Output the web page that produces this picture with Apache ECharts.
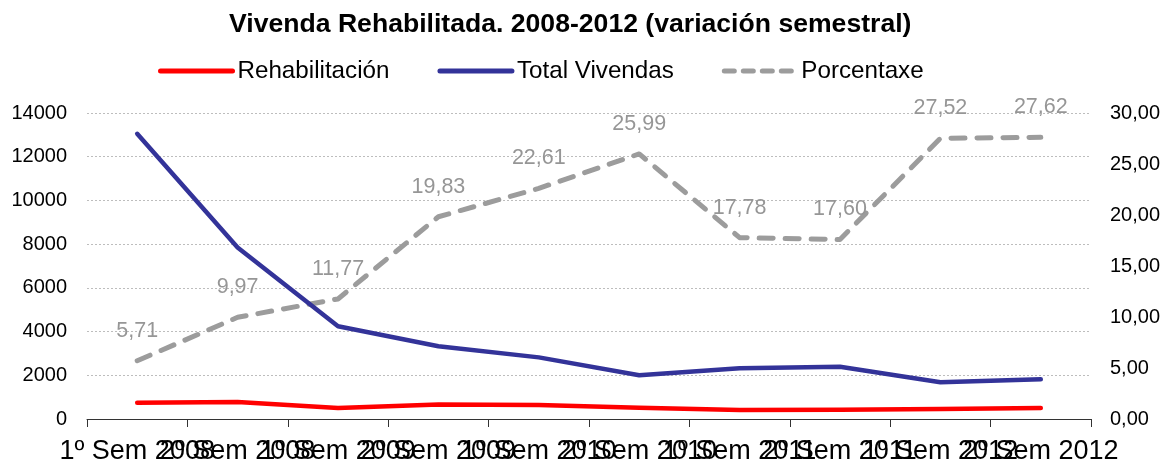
<!DOCTYPE html>
<html lang="gl" style="height: 100%;margin: 0;background-color: #ffffff;">
<head>
    <meta charset="UTF-8">
    <title>chart</title>
</head>
<body style="height: 100%;margin: 0;background-color: #ffffff;">
<div id="chart" style="width: 1176px;height: 461px;margin: 0;"></div>
<script src="https://cdn.jsdelivr.net/npm/echarts@6/dist/echarts.min.js"></script>
<script>
    var categories = ["1º Sem 2008", "2º Sem 2008", "1º Sem 2009", "2º Sem 2009", "1º Sem 2010",
        "2º Sem 2010", "1º Sem 2011", "2º Sem 2011", "1º Sem 2012", "2º Sem 2012"];
    var rehabilitacion = [745, 783, 499, 660, 638, 520, 412, 421, 462, 502];
    var totalVivendas = [13050, 7850, 4240, 3330, 2820, 2000, 2320, 2390, 1680, 1820];
    var porcentaxe = [5.71, 9.97, 11.77, 19.83, 22.61, 25.99, 17.78, 17.60, 27.52, 27.62];

    var font = "'Liberation Sans', Arial, sans-serif";
    var myChart = echarts.init(document.getElementById("chart"), null, {renderer: 'canvas'});

    function comma(v) {
        return Number(v).toFixed(2).replace(".", ",");
    }

    var option = {
        backgroundColor: '#ffffff',
        animation: false,
        textStyle: {fontFamily: font},
        title: {
            text: "Vivenda Rehabilitada. 2008-2012 (variación semestral)",
            left: 229,
            top: 11,
            padding: 0,
            textStyle: {fontFamily: font, fontSize: 26.6, fontWeight: 'bold', color: '#000'}
        },
        legend: {
            data: [
                {name: "Rehabilitación", lineStyle: {color: '#ff0000', width: 5, type: 'solid'}},
                {name: "Total Vivendas", lineStyle: {color: '#333399', width: 5, type: 'solid'}},
                {name: "Porcentaxe", lineStyle: {color: '#9c9c9c', width: 5, type: [10, 9]}}
            ],
            left: 158,
            top: 59,
            padding: 0,
            itemWidth: 72,
            itemHeight: 20,
            itemGap: 48,
            itemStyle: {opacity: 0},
            textStyle: {fontFamily: font, fontSize: 24.2, color: '#000'}
        },
        grid: {
            left: 87,
            right: 85,
            top: 113,
            bottom: 42,
            outerBoundsMode: 'none'
        },
        xAxis: [{
            type: 'category',
            data: categories,
            boundaryGap: true,
            axisLine: {lineStyle: {color: '#333', width: 1}},
            axisTick: {show: true, length: 8, lineStyle: {color: '#333'}},
            axisLabel: {interval: 0, fontSize: 27, color: '#000', margin: 19, fontFamily: font}
        }],
        yAxis: [{
            type: 'value',
            min: 0,
            max: 14000,
            interval: 2000,
            axisLine: {show: false},
            axisTick: {show: false},
            axisLabel: {
                fontSize: 20, color: '#000', margin: 20, fontFamily: font,
                formatter: function (v) {
                    return String(v);
                }
            },
            splitLine: {lineStyle: {color: '#bdbdbd', type: [2, 2], width: 1}}
        }, {
            type: 'value',
            min: 0,
            max: 30,
            interval: 5,
            position: 'right',
            axisLine: {show: false},
            axisTick: {show: false},
            axisLabel: {fontSize: 20, color: '#000', margin: 19, fontFamily: font, formatter: comma},
            splitLine: {show: false}
        }],
        series: [{
            name: "Rehabilitación",
            type: 'line',
            data: rehabilitacion,
            symbol: 'none',
            itemStyle: {color: '#ff0000'},
            lineStyle: {color: '#ff0000', width: 4.5, cap: 'round', join: 'round'},
            z: 4
        }, {
            name: "Total Vivendas",
            type: 'line',
            data: totalVivendas,
            symbol: 'none',
            itemStyle: {color: '#333399'},
            lineStyle: {color: '#333399', width: 4.5, cap: 'round', join: 'round'},
            z: 3
        }, {
            name: "Porcentaxe",
            type: 'line',
            yAxisIndex: 1,
            data: porcentaxe,
            symbol: 'circle',
            symbolSize: 2,
            showSymbol: true,
            itemStyle: {color: 'rgba(156,156,156,0)'},
            lineStyle: {color: '#9c9c9c', width: 5, type: [14, 12], cap: 'round', join: 'round'},
            label: {
                show: true,
                position: 'top',
                distance: 18,
                fontSize: 21.5,
                color: '#969696',
                fontFamily: font,
                formatter: function (p) {
                    return comma(p.value);
                }
            },
            labelLayout: {hideOverlap: false},
            z: 2
        }]
    };
    myChart.setOption(option, true);
</script>
</body>
</html>
